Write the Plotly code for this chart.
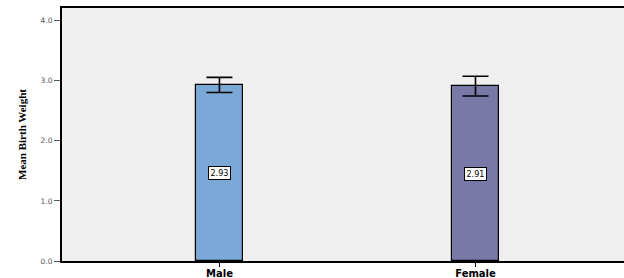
import plotly.graph_objects as go

categories = ["Male", "Female"]
means = [2.93, 2.91]
err_plus = [0.125, 0.165]
err_minus = [0.125, 0.165]
bar_labels = ["2.93", "2.91"]
colors = ["#7AA8D7", "#7979A8"]
y_ticks = [0.0, 1.0, 2.0, 3.0, 4.0]
y_tick_text = ["0.0", "1.0", "2.0", "3.0", "4.0"]

xpos = list(range(len(categories)))

fig = go.Figure()
fig.add_trace(go.Bar(
    x=xpos, y=means, width=0.183,
    marker=dict(color=colors, line=dict(color="black", width=1.2)),
    error_y=dict(type="data", symmetric=False, array=err_plus, arrayminus=err_minus,
                 color="black", thickness=1.6, width=13),
    showlegend=False, hoverinfo="skip",
))

for xi, m, lab in zip(xpos, means, bar_labels):
    fig.add_annotation(x=xi, y=m / 2, text=lab, showarrow=False,
                       font=dict(family="DejaVu Sans", size=8, color="black"),
                       bgcolor="white", bordercolor="black", borderwidth=1, borderpad=1.5)

fig.update_layout(
    width=624, height=278,
    margin=dict(l=62, r=0, t=8, b=17, autoexpand=False),
    paper_bgcolor="white", plot_bgcolor="#EFEFEF",
    bargap=0,
    xaxis=dict(range=[-0.615, 1.58], tickvals=xpos, ticktext=categories,
               automargin=False,
               showgrid=False, zeroline=False,
               showline=True, linecolor="black", linewidth=2, mirror=True,
               ticks="outside", ticklen=4, tickcolor="black", tickwidth=1,
               ticklabelstandoff=-2,
               tickfont=dict(family="DejaVu Sans", size=10, color="black", weight="bold")),
    yaxis=dict(range=[0, 4.21], tickvals=y_ticks, ticktext=y_tick_text,
               automargin=False,
               showgrid=False, zeroline=False,
               showline=True, linecolor="black", linewidth=2,
               ticks="outside", ticklen=6, tickcolor="#555555", tickwidth=1,
               tickfont=dict(family="DejaVu Sans", size=7.5, color="#555555"),
               title=dict(text="Mean Birth Weight", standoff=12,
                          font=dict(family="Liberation Serif", size=11, color="black", weight="bold"))),
)

fig.write_html("out.html", config={"displayModeBar": False},
               post_script="document.body.style.margin='0';document.body.style.overflow='hidden';")
